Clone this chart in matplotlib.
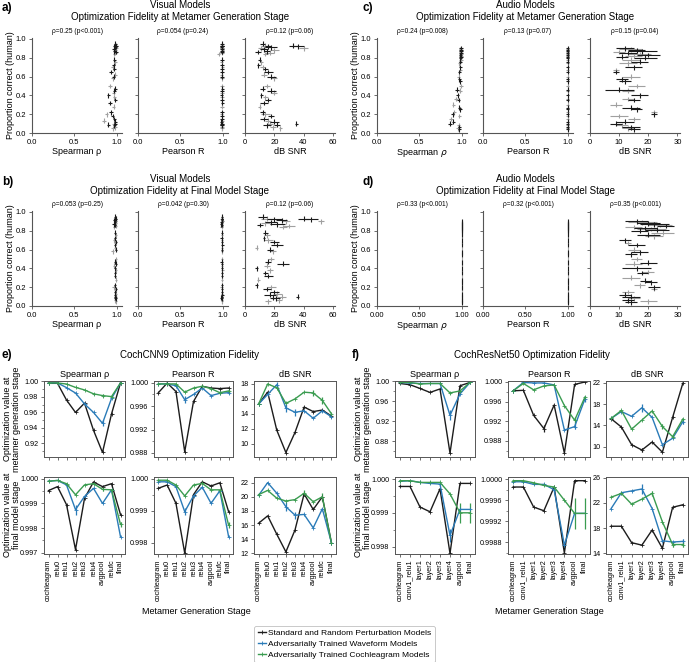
import matplotlib
matplotlib.use('Agg')
import matplotlib.pyplot as plt
from matplotlib.lines import Line2D
from matplotlib.ticker import MultipleLocator

plt.rcParams['font.family'] = ['Liberation Sans', 'DejaVu Sans']

# ---------------- scatter data (panels a-d) ----------------
VIS_Y = [0.95, 0.93, 0.92, 0.91, 0.90, 0.89, 0.88, 0.87, 0.86, 0.85, 0.84,
         0.93, 0.92, 0.90,
         0.78, 0.75, 0.72, 0.70, 0.68, 0.65, 0.62, 0.60, 0.58,
         0.50, 0.47, 0.45, 0.43, 0.40, 0.38, 0.35, 0.32, 0.28,
         0.22, 0.20, 0.18, 0.15, 0.13, 0.12, 0.10, 0.09, 0.08, 0.06, 0.05,
         0.10]
VIS_GRP = [0, 1, 0, 0, 1, 0, 1, 0, 0, 1, 1, 0, 0, 1, 0, 1, 0, 1, 0, 0, 1, 0, 1,
           1, 0, 0, 1, 0, 1, 0, 0, 1, 0, 1, 0, 0, 1, 0, 1, 0, 0, 1, 1, 0]
VIS_A_SP = [0.98, 0.99, 0.97, 0.98, 0.99, 0.96, 0.98, 0.97, 0.99, 0.98, 0.97,
            0.98, 0.99, 0.98,
            0.97, 0.98, 0.96, 0.95, 0.97, 0.93, 0.98, 0.96, 0.95,
            0.92, 0.98, 0.97, 0.96, 0.90, 0.97, 0.98, 0.92, 0.96,
            0.93, 0.88, 0.95, 0.97, 0.85, 0.98, 0.96, 0.90, 0.97, 0.98, 0.95,
            0.98]
VIS_A_PR = [0.99, 0.995, 0.99, 0.985, 0.99, 0.99, 0.995, 0.99, 0.99, 0.99, 0.95,
            0.99, 0.995, 0.99,
            0.99, 0.985, 0.99, 0.995, 0.99, 0.99, 0.985, 0.99, 0.99,
            0.99, 0.995, 0.99, 0.99, 0.985, 0.99, 0.99, 0.995, 0.99,
            0.99, 0.985, 0.99, 0.99, 0.995, 0.98, 0.99, 0.99, 0.985, 0.99, 0.99,
            0.99]
VIS_A_SNR = [12, 14, 16, 18, 11, 13, 20, 15, 9, 17, 14,
             33, 36, 40,
             10, 11, 9, 12, 14, 16, 13, 18, 20,
             15, 12, 18, 20, 11, 14, 16, 13, 10,
             12, 14, 18, 13, 16, 20, 17, 22, 15, 19, 24,
             35]
VIS_A_SNR_ERR = [2, 3, 2, 4, 2, 3, 3, 2, 2, 3, 2, 3, 4, 3, 1, 1, 1, 2, 2, 3, 2, 3,
                 2, 2, 2, 3, 2, 1, 2, 2, 3, 1, 2, 3, 2, 3, 2, 3, 2, 2, 3, 2, 1, 1]
VIS_B_SP = [0.98, 0.99, 0.98, 0.97, 0.99, 0.98, 0.99, 0.96, 0.98, 0.99, 0.97,
            0.99, 0.98, 0.99,
            0.98, 0.99, 0.98, 0.97, 0.99, 0.98, 0.98, 0.99, 0.95,
            0.99, 0.98, 0.99, 0.97, 0.98, 0.99, 0.98, 0.98, 0.99,
            0.98, 0.96, 0.99, 0.98, 0.99, 0.98, 0.99, 0.98, 0.99, 0.98, 0.99,
            0.98]
VIS_B_PR = [0.99, 0.985, 0.99, 0.99, 0.995, 0.985, 0.99, 0.98, 0.99, 0.99, 0.985,
            0.99, 0.99, 0.995,
            0.99, 0.99, 0.985, 0.99, 0.99, 0.995, 0.99, 0.99, 0.99,
            0.99, 0.985, 0.99, 0.99, 0.99, 0.995, 0.99, 0.99, 0.99,
            0.99, 0.985, 0.99, 0.99, 0.99, 0.995, 0.99, 0.98, 0.99, 0.99, 0.99,
            0.99]
VIS_B_SNR = [12, 15, 20, 25, 28, 18, 14, 22, 10, 30, 26,
             40, 45, 52,
             14, 15, 13, 16, 20, 22, 8, 17, 19,
             18, 16, 26, 15, 8, 17, 14, 16, 9,
             8, 18, 15, 20, 22, 17, 25, 19, 21, 23, 16,
             36]
VIS_B_SNR_ERR = [3, 4, 5, 4, 3, 4, 3, 5, 2, 4, 3, 4, 5, 2, 2, 2, 1, 3, 3, 4, 1, 2,
                 2, 2, 2, 4, 2, 1, 2, 2, 3, 1, 1, 3, 3, 3, 3, 4, 3, 2, 3, 2, 2, 1]

AUD_Y = [0.90, 0.89, 0.88, 0.87, 0.86, 0.85, 0.84, 0.83, 0.82, 0.81, 0.80, 0.78, 0.76, 0.74,
         0.70, 0.67, 0.65, 0.60, 0.57, 0.55, 0.50, 0.46, 0.45, 0.40, 0.36, 0.35, 0.30,
         0.27, 0.25, 0.22, 0.20, 0.18, 0.15, 0.12, 0.10, 0.08, 0.06, 0.05, 0.04]
AUD_GRP = [0, 1, 0, 0, 1, 0, 1, 0, 1, 0, 0, 1, 0, 1, 0, 1, 0, 1, 0, 0,
           1, 0, 1, 0, 1, 0, 1, 0, 0, 1, 0, 1, 1, 0, 0, 1, 0, 1, 0]
AUD_C_SP = [0.99, 0.98, 0.99, 0.99, 0.98, 0.99, 0.99, 0.98, 0.99, 0.99, 0.98, 0.99, 0.98, 0.97,
            0.98, 0.98, 0.97, 0.96, 0.97, 0.98, 0.99, 0.94, 0.98, 0.95, 0.93, 0.96, 0.90,
            0.97, 0.98, 0.91, 0.89, 0.97, 0.87, 0.90, 0.86, 0.96, 0.97, 0.95, 0.97]
AUD_C_PR = [0.998, 0.997, 0.998, 0.996, 0.998, 0.997, 0.998, 0.997, 0.998, 0.996, 0.998, 0.997,
            0.998, 0.997, 0.998, 0.996, 0.997, 0.998, 0.997, 0.996, 0.998, 0.997, 0.996,
            0.998, 0.997, 0.996, 0.997, 0.998, 0.996, 0.997, 0.998, 0.997, 0.996, 0.997,
            0.998, 0.996, 0.997, 0.996, 0.997]
AUD_C_SNR = [12, 14, 16, 18, 10, 13, 17, 20, 15, 11, 19, 14, 17, 13,
             15, 9, 9, 14, 11, 12, 16, 10, 13, 17, 13, 15, 9, 14, 16, 22, 22, 10, 15,
             12, 9, 11, 14, 13, 15]
AUD_C_SNR_ERR = [3, 4, 3, 5, 2, 3, 4, 4, 3, 2, 4, 3, 3, 3, 3, 1, 1, 3, 2, 2, 3, 5, 2, 3,
                 2, 2, 2, 3, 2, 1, 1, 3, 2, 3, 2, 2, 3, 2, 2]
AUD_D_SP = [1.0, 1.0, 1.0, 1.0, 1.0, 1.0, 1.0, 1.0, 1.0, 1.0, 1.0, 1.0, 1.0, 1.0,
            1.0, 1.0, 1.0, 1.0, 1.0, 1.0, 1.0, 1.0, 1.0, 1.0, 1.0, 1.0, 1.0,
            1.0, 1.0, 1.0, 1.0, 1.0, 1.0, 1.0, 1.0, 1.0, 1.0, 1.0, 1.0]
AUD_D_PR = [1.0, 1.0, 1.0, 1.0, 1.0, 1.0, 1.0, 1.0, 1.0, 1.0, 1.0, 1.0, 1.0, 1.0,
            1.0, 1.0, 1.0, 1.0, 1.0, 1.0, 1.0, 1.0, 1.0, 1.0, 1.0, 1.0, 1.0,
            1.0, 1.0, 1.0, 1.0, 1.0, 1.0, 1.0, 1.0, 1.0, 1.0, 1.0, 1.0]
AUD_D_SNR = [16, 18, 20, 22, 24, 26, 15, 19, 21, 23, 17, 25, 20, 22,
             12, 13, 16, 15, 17, 14, 16, 20, 15, 16, 20, 18, 14, 19, 21, 17, 22, 22,
             13, 12, 14, 15, 13, 20, 14]
AUD_D_SNR_ERR = [4, 5, 4, 5, 4, 3, 3, 4, 5, 4, 3, 4, 4, 3, 2, 1, 3, 2, 3, 2, 2, 3, 3, 5,
                 2, 2, 3, 2, 2, 2, 2, 1, 2, 2, 3, 2, 2, 3, 2]

CORR_A = ['ρ=0.25 (p<0.001)', 'ρ=0.054 (p=0.24)', 'ρ=0.12 (p=0.06)']
CORR_B = ['ρ=0.053 (p=0.25)', 'ρ=0.042 (p=0.30)', 'ρ=0.12 (p=0.06)']
CORR_C = ['ρ=0.24 (p=0.008)', 'ρ=0.13 (p=0.07)', 'ρ=0.15 (p=0.04)']
CORR_D = ['ρ=0.33 (p<0.001)', 'ρ=0.32 (p<0.001)', 'ρ=0.35 (p<0.001)']

# ---------------- line data (panels e-f) ----------------
CNN_STAGES = ['cochleagram', 'relu0', 'relu1', 'relu2', 'relu3', 'relu4', 'avgpool', 'relufc', 'final']
RES_STAGES = ['cochleagram', 'conv1_relu1', 'layer1', 'layer2', 'layer3', 'layer4', 'avgpool', 'final']
SERIES = ['Standard and Random Perturbation Models',
          'Adversarially Trained Waveform Models',
          'Adversarially Trained Cochleagram Models']

E_SP_M = [[0.9975, 0.9975, 0.976, 0.960, 0.972, 0.937, 0.9085, 0.958, 0.998],
          [0.998, 0.998, 0.992, 0.985, 0.971, 0.960, 0.946, 0.978, 0.998],
          [0.998, 0.998, 0.9966, 0.9923, 0.989, 0.984, 0.9817, 0.9804, 0.998]]
E_SP_M_ERR = [[0, 0, 0, 0, 0, 0, 0, 0, 0],
              [0, 0, 0, 0, 0.002, 0, 0.004, 0, 0],
              [0, 0, 0, 0, 0, 0.0015, 0.0015, 0, 0]]
E_PR_M = [[0.9983, 0.99995, 0.9985, 0.9882, 0.9968, 0.9994, 0.9991, 0.9990, 0.9991],
          [0.9998, 0.9998, 0.9995, 0.9971, 0.9980, 0.9991, 0.9978, 0.9982, 0.9983],
          [0.9998, 0.9998, 0.9998, 0.9984, 0.9991, 0.9994, 0.9990, 0.9983, 0.9986]]
E_PR_M_ERR = [[0, 0, 0, 0, 0, 0, 0, 0, 0],
              [0, 0, 0, 0.0006, 0, 0, 0, 0, 0.0003],
              [0, 0, 0, 0, 0, 0, 0, 0.0003, 0.0003]]
E_SNR_M = [[15.3, 16.9, 11.8, 8.8, 11.5, 14.9, 14.3, 14.5, 13.7],
           [15.3, 16.6, 17.9, 14.8, 14.2, 14.4, 13.4, 14.4, 13.6],
           [15.3, 18.0, 17.5, 15.4, 16.0, 16.9, 16.8, 15.8, 14.0]]
E_SNR_M_ERR = [[0, 0, 0, 0, 0, 0, 0, 0, 0],
               [0, 0, 0.4, 0.5, 0.5, 0, 0, 0, 0],
               [0, 0, 0, 0, 0, 0, 0.4, 0.5, 0]]
E_SP_F = [[0.99952, 0.99968, 0.99895, 0.99713, 0.9992, 0.99987, 0.99968, 0.9998, 0.99855],
          [0.9999, 0.99993, 0.99975, 0.99875, 0.99928, 0.99961, 0.999, 0.99955, 0.99765],
          [0.9999, 0.99993, 0.9998, 0.99935, 0.99975, 0.9998, 0.99957, 0.99955, 0.99815]]
E_SP_F_ERR = [[0, 0, 0, 0, 0, 0, 0, 0, 0],
              [0, 0, 0, 0.0002, 0, 0, 0, 0, 0],
              [0, 0, 0, 0, 0, 0, 0.00005, 0, 0.0001]]
E_PR_F = [[0.9997, 0.9998, 0.99923, 0.99768, 0.9995, 0.9999, 0.99977, 0.99987, 0.99897],
          [0.9999, 0.9999, 0.99975, 0.99897, 0.99946, 0.99973, 0.99923, 0.99962, 0.99819],
          [0.99995, 0.99995, 0.9998, 0.99946, 0.9998, 0.99985, 0.99965, 0.99965, 0.99855]]
E_PR_F_ERR = [[0, 0, 0, 0, 0, 0, 0, 0, 0],
              [0, 0, 0, 0.0001, 0, 0, 0, 0, 0],
              [0, 0, 0, 0, 0, 0, 0.00005, 0, 0.0001]]
E_SNR_F = [[16.25, 17.3, 14.7, 12.2, 15.3, 20.4, 18.2, 20.0, 13.5],
           [20.2, 22.0, 20.5, 18.6, 17.4, 17.5, 15.6, 18.3, 13.5],
           [20.3, 20.9, 19.8, 19.4, 19.6, 20.5, 19.3, 20.0, 13.4]]
E_SNR_F_ERR = [[0, 0, 0, 0, 0, 0, 0, 0, 0],
               [0, 0, 0, 0.6, 0.5, 0, 0, 0, 0],
               [0, 0, 0, 0, 0, 0.4, 0, 0.6, 0]]

F_SP_M = [[0.996, 0.9935, 0.986, 0.978, 0.985, 0.856, 0.9915, 0.998],
          [0.998, 0.997, 0.996, 0.996, 0.996, 0.932, 0.975, 0.998],
          [0.998, 0.998, 0.995, 0.996, 0.996, 0.977, 0.981, 0.998]]
F_SP_M_ERR = [[0, 0, 0, 0, 0, 0, 0, 0],
              [0, 0, 0, 0, 0, 0.01, 0, 0],
              [0, 0, 0, 0, 0, 0.002, 0, 0]]
F_PR_M = [[0.9982, 0.9983, 0.9932, 0.9905, 0.9953, 0.9855, 0.9995, 1.0000],
          [0.9982, 0.9999, 0.9998, 0.9998, 0.9994, 0.9902, 0.9909, 0.9965],
          [0.9982, 0.9997, 0.9984, 0.9992, 0.9994, 0.9952, 0.9922, 0.9969]]
F_PR_M_ERR = [[0, 0, 0, 0.0008, 0, 0, 0, 0],
              [0, 0, 0, 0, 0, 0, 0.0005, 0.0006],
              [0, 0, 0, 0, 0, 0, 0.0007, 0]]
F_SNR_M = [[15.25, 13.7, 10.4, 9.4, 10.9, 9.0, 15.5, 21.9],
           [15.3, 16.6, 15.7, 17.3, 15.5, 10.4, 11.6, 14.7],
           [15.3, 16.8, 13.3, 15.0, 16.7, 13.8, 11.9, 15.2]]
F_SNR_M_ERR = [[0, 0, 0, 0.3, 0, 0, 0, 0],
               [0, 0, 0, 0.7, 0, 0, 0, 0.5],
               [0, 0, 0, 0, 0, 0.4, 0, 0]]
F_SP_F = [[0.99978, 0.99978, 0.99917, 0.99903, 0.99971, 0.9978, 0.99987, 0.99987],
          [0.99993, 0.99995, 0.9999, 0.99987, 0.99985, 0.99833, 0.9991, 0.9991],
          [0.99995, 0.99995, 0.9999, 0.9999, 0.9999, 0.99956, 0.9990, 0.9990]]
F_SP_F_ERR = [[0, 0, 0, 0, 0, 0, 0, 0],
              [0, 0, 0, 0, 0, 0.0002, 0, 0],
              [0, 0, 0, 0, 0, 0, 0.0003, 0.0003]]
F_PR_F = [[0.99985, 0.99985, 0.99947, 0.9994, 0.99985, 0.9986, 0.99997, 0.99997],
          [0.99995, 0.99995, 0.9999, 0.9999, 0.9998, 0.99875, 0.99935, 0.99935],
          [0.99997, 0.99997, 0.99993, 0.99988, 0.99985, 0.9996, 0.99935, 0.99935]]
F_PR_F_ERR = [[0, 0, 0, 0, 0, 0, 0, 0],
              [0, 0, 0, 0, 0, 0.00005, 0, 0],
              [0, 0, 0, 0, 0, 0, 0.0003, 0.0003]]
F_SNR_F = [[18.3, 18.3, 15.7, 15.3, 17.7, 14.8, 21.3, 21.7],
           [21.1, 23.6, 23.9, 24.2, 21.1, 16.0, 15.8, 15.9],
           [22.9, 23.5, 21.8, 22.6, 23.5, 19.0, 15.4, 15.4]]
F_SNR_F_ERR = [[0, 0, 0, 0, 0, 0, 0, 0],
               [0, 0, 0, 0.8, 0, 0, 0, 0.4],
               [0, 0, 0, 0, 0.4, 0, 0.4, 0.4]]

COLORS = ['#1c1c1c', '#2a7bb8', '#3a9c50']
SPINE = '#555555'

W, H = 690, 662
fig = plt.figure(figsize=(W / 100, H / 100), dpi=100)


def add_ax(l, t, r, b):
    return fig.add_axes([l / W, 1 - b / H, (r - l) / W, (b - t) / H])


def ftext(x, y, s, **kw):
    fig.text(x / W, 1 - y / H, s, **kw)


def scatter_col(ax, xv, xe, yv, ye, grp):
    for g, col in [(1, '#a0a0a0'), (0, '#1a1a1a')]:
        idx = [k for k in range(len(yv)) if grp[k] == g]
        xerr = [xe[k] for k in idx] if isinstance(xe, list) else xe
        ax.errorbar([xv[k] for k in idx], [yv[k] for k in idx], xerr=xerr, yerr=ye,
                    fmt='none', ecolor=col, elinewidth=0.8, capsize=0)


def style_scatter(ax, first, xlim, xticks, xticklabels, xlabel):
    for s in ['top', 'right']:
        ax.spines[s].set_visible(False)
    for s in ['left', 'bottom']:
        ax.spines[s].set_color(SPINE)
        ax.spines[s].set_linewidth(0.8)
    ax.set_xlim(*xlim)
    ax.set_ylim(0, 1.01)
    ax.set_xticks(xticks)
    ax.set_xticklabels(xticklabels, fontsize=5.5)
    ax.set_yticks([0, 0.2, 0.4, 0.6, 0.8, 1.0])
    if first:
        ax.set_yticklabels(['0.0', '0.2', '0.4', '0.6', '0.8', '1.0'], fontsize=5.5)
        ax.set_ylabel('Proportion correct (human)', fontsize=6.5, labelpad=1)
    else:
        ax.set_yticklabels([])
    ax.tick_params(length=2.5, width=0.6, pad=1.5, color=SPINE)
    ax.set_xlabel(xlabel, fontsize=6.5, labelpad=1)


def scatter_panel(lefts, top, bottom, yv, grp, sp, pr, snr, snr_err, corr,
                  snr_lim, snr_ticks, unit_labels, sp_label, sp_err):
    xs = [sp, pr, snr]
    xes = [sp_err, sp_err, snr_err]
    lims = [(0, 1.06), (0, 1.06), snr_lim]
    ticks = [[0, 0.5, 1.0], [0, 0.5, 1.0], snr_ticks]
    tlabs = [unit_labels, unit_labels, [str(t) for t in snr_ticks]]
    labels = [sp_label, 'Pearson R', 'dB SNR']
    for i, l in enumerate(lefts):
        ax = add_ax(l, top, l + 90, bottom)
        scatter_col(ax, xs[i], xes[i], yv, 0.025, grp)
        style_scatter(ax, i == 0, lims[i], ticks[i], tlabs[i], labels[i])
        ax.text(0.5, 1.03, corr[i], transform=ax.transAxes, ha='center', va='bottom', fontsize=4.8)


# ---- panels a-d ----
unit = ['0.0', '0.5', '1.0']
scatter_panel([32, 138, 245], 38, 133, VIS_Y, VIS_GRP, VIS_A_SP, VIS_A_PR, VIS_A_SNR,
              VIS_A_SNR_ERR, CORR_A, (0, 61.5), [0, 20, 40, 60], unit, 'Spearman ρ', 0.02)
scatter_panel([32, 138, 245], 211, 306, VIS_Y, VIS_GRP, VIS_B_SP, VIS_B_PR, VIS_B_SNR,
              VIS_B_SNR_ERR, CORR_B, (0, 61.5), [0, 20, 40, 60], unit, 'Spearman ρ', 0.015)
scatter_panel([377, 483, 590], 38, 133, AUD_Y, AUD_GRP, AUD_C_SP, AUD_C_PR, AUD_C_SNR,
              AUD_C_SNR_ERR, CORR_C, (0, 30.9), [0, 10, 20, 30], unit, 'Spearman $\\rho$', 0.02)
scatter_panel([377, 483, 590], 211, 306, AUD_Y, AUD_GRP, AUD_D_SP, AUD_D_PR, AUD_D_SNR,
              AUD_D_SNR_ERR, CORR_D, (0, 30.9), [0, 10, 20, 30], ['0.00', '0.50', '1.00'],
              'Spearman $\\rho$', 0.001)

for lab, x, y in [('a)', 2, 8), ('b)', 2, 182), ('c)', 362, 8), ('d)', 362, 182)]:
    ftext(x, y, lab, fontsize=8.5, fontweight='bold', va='center')
for x, y, t1, t2 in [(180, 5, 'Visual Models', 'Optimization Fidelity at Metamer Generation Stage'),
                     (180, 179, 'Visual Models', 'Optimization Fidelity at Final Model Stage'),
                     (525, 5, 'Audio Models', 'Optimization Fidelity at Metamer Generation Stage'),
                     (525, 179, 'Audio Models', 'Optimization Fidelity at Final Model Stage')]:
    ftext(x, y, t1, fontsize=7, ha='center', va='center')
    ftext(x, y + 11.5, t2, fontsize=7, ha='center', va='center')


# ---- panels e-f ----
def line_panel(l, t, r, b, vals, errs, stages, ylim, yticks, fmt, minor, show_x, title):
    ax = add_ax(l, t, r, b)
    x = list(range(len(stages)))
    for v, e, c in zip(vals, errs, COLORS):
        ax.errorbar(x, v, yerr=e, color=c, lw=1.0, elinewidth=0.9, capsize=0,
                    marker='+', ms=2.5, mew=0.6)
    ax.set_xlim(-0.5, len(stages) - 0.5)
    ax.set_ylim(*ylim)
    ax.set_yticks(yticks)
    ax.set_yticklabels([fmt.format(v) for v in yticks], fontsize=5.2)
    if minor:
        ax.yaxis.set_minor_locator(MultipleLocator(minor))
    ax.set_xticks(x)
    if show_x:
        ax.set_xticklabels(stages, rotation=90, fontsize=5.2)
    else:
        ax.set_xticklabels([])
    for s in ax.spines.values():
        s.set_color(SPINE)
        s.set_linewidth(0.7)
    ax.tick_params(which='major', length=2.5, width=0.6, pad=1.5, color=SPINE)
    ax.tick_params(which='minor', length=1.5, width=0.5, color=SPINE)
    if title:
        ax.set_title(title, fontsize=6.5, pad=3)
    return ax


TOP = (381, 457)
BOT = (477, 554)
E_X = [(44, 125), (154, 233), (254, 336)]
F_X = [(395, 475), (508, 590), (606, 688)]

line_panel(E_X[0][0], TOP[0], E_X[0][1], TOP[1], E_SP_M, E_SP_M_ERR, CNN_STAGES, (0.9026, 1.0005),
           [0.92, 0.94, 0.96, 0.98, 1.00], '{:.2f}', 0.01, False, 'Spearman ρ')
line_panel(E_X[1][0], TOP[0], E_X[1][1], TOP[1], E_PR_M, E_PR_M_ERR, CNN_STAGES, (0.9873, 1.0003),
           [0.988, 0.992, 0.996, 1.000], '{:.3f}', 0.002, False, 'Pearson R')
line_panel(E_X[2][0], TOP[0], E_X[2][1], TOP[1], E_SNR_M, E_SNR_M_ERR, CNN_STAGES, (8.2, 18.4),
           [10, 12, 14, 16, 18], '{:d}', None, False, 'dB SNR')
line_panel(E_X[0][0], BOT[0], E_X[0][1], BOT[1], E_SP_F, E_SP_F_ERR, CNN_STAGES, (0.99695, 1.00007),
           [0.997, 0.998, 0.999, 1.000], '{:.3f}', 0.0005, True, None)
line_panel(E_X[1][0], BOT[0], E_X[1][1], BOT[1], E_PR_F, E_PR_F_ERR, CNN_STAGES, (0.99765, 1.00005),
           [0.998, 0.999, 1.000], '{:.3f}', 0.0005, True, None)
line_panel(E_X[2][0], BOT[0], E_X[2][1], BOT[1], E_SNR_F, E_SNR_F_ERR, CNN_STAGES, (11.9, 22.8),
           [12, 14, 16, 18, 20, 22], '{:d}', None, True, None)

line_panel(F_X[0][0], TOP[0], F_X[0][1], TOP[1], F_SP_M, F_SP_M_ERR, RES_STAGES, (0.848, 1.001),
           [0.88, 0.92, 0.96, 1.00], '{:.2f}', 0.02, False, 'Spearman ρ')
line_panel(F_X[1][0], TOP[0], F_X[1][1], TOP[1], F_PR_M, F_PR_M_ERR, RES_STAGES, (0.9847, 1.0002),
           [0.988, 0.992, 0.996, 1.000], '{:.3f}', 0.002, False, 'Pearson R')
line_panel(F_X[2][0], TOP[0], F_X[2][1], TOP[1], F_SNR_M, F_SNR_M_ERR, RES_STAGES, (8.1, 22.3),
           [10, 14, 18, 22], '{:d}', None, False, 'dB SNR')
line_panel(F_X[0][0], BOT[0], F_X[0][1], BOT[1], F_SP_F, F_SP_F_ERR, RES_STAGES, (0.99778, 1.00006),
           [0.998, 0.999, 1.000], '{:.3f}', 0.0005, True, None)
line_panel(F_X[1][0], BOT[0], F_X[1][1], BOT[1], F_PR_F, F_PR_F_ERR, RES_STAGES, (0.99858, 1.00004),
           [0.9988, 0.9992, 0.9996, 1.0000], '{:.4f}', 0.0002, True, None)
line_panel(F_X[2][0], BOT[0], F_X[2][1], BOT[1], F_SNR_F, F_SNR_F_ERR, RES_STAGES, (13.9, 26.1),
           [14, 18, 22, 26], '{:d}', None, True, None)

ftext(2, 355, 'e)', fontsize=8.5, fontweight='bold', va='center')
ftext(352, 355, 'f)', fontsize=8.5, fontweight='bold', va='center')
ftext(190, 355, 'CochCNN9 Optimization Fidelity', fontsize=7, ha='center', va='center')
ftext(532, 355, 'CochResNet50 Optimization Fidelity', fontsize=7, ha='center', va='center')
for x in [12, 363]:
    ftext(x, 419, 'Optimization value at\nmetamer generation stage', fontsize=6.5,
          ha='center', va='center', rotation=90, linespacing=0.95)
    ftext(x, 515, 'Optimization value at\nfinal model stage', fontsize=6.5,
          ha='center', va='center', rotation=90, linespacing=0.95)
ftext(196, 612, 'Metamer Generation Stage', fontsize=6.5, ha='center', va='center')
ftext(549, 612, 'Metamer Generation Stage', fontsize=6.5, ha='center', va='center')

handles = [Line2D([0], [0], color=c, lw=1.0, marker='+', ms=3, mew=0.6) for c in COLORS]
leg = fig.legend(handles, SERIES, loc='upper left', bbox_to_anchor=(250 / W, 1 - 622 / H),
                 fontsize=6, handlelength=1.0, handletextpad=0.3, labelspacing=0.35,
                 borderpad=0.4, frameon=True, fancybox=True)
leg.get_frame().set_edgecolor('#b0b0b0')
leg.get_frame().set_linewidth(0.6)

fig.savefig('out.png', dpi=100)
